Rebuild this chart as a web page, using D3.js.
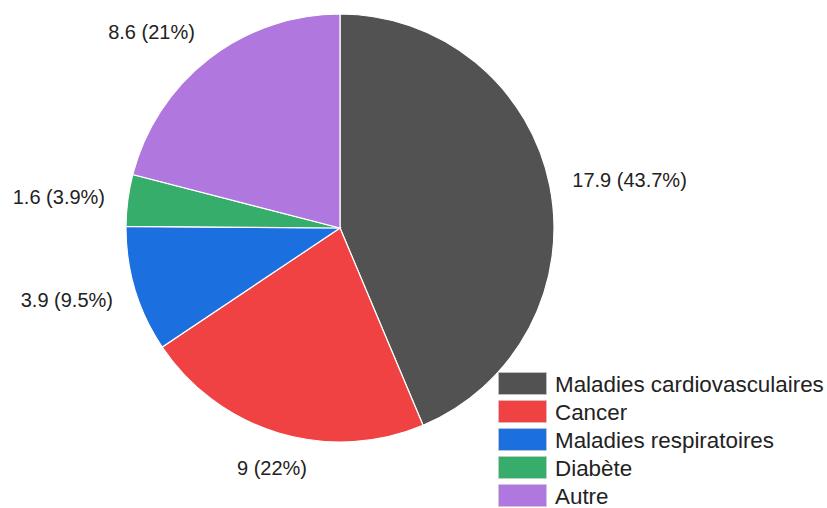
<!DOCTYPE html>
<html>
<head>
<meta charset="utf-8">
<script src="https://cdn.jsdelivr.net/npm/d3@7"></script>
<style>
  body { margin: 0; background: #fff; }
  text { font-family: "Liberation Sans", Arial, sans-serif; fill: #222; }
</style>
</head>
<body>
<div id="chart"></div>
<script>
const categories = ['Maladies cardiovasculaires', 'Cancer', 'Maladies respiratoires', 'Diabète', 'Autre'];
const values = [17.9, 9, 3.9, 1.6, 8.6];
const percentLabels = ['43.7%', '22%', '9.5%', '3.9%', '21%'];
const colors = ['#525252', '#f04242', '#1b6fde', '#37ad6b', '#b077df'];

const width = 827;
const height = 508;
const cx = 340;
const cy = 228;
const radius = 214;
// label box sits a little further out vertically than horizontally
const labelRx = 237;
const labelRy = 249;

const svg = d3.select('#chart')
  .append('svg')
  .attr('width', width)
  .attr('height', height);

const data = categories.map((c, i) => ({ name: c, value: values[i], pct: percentLabels[i], color: colors[i] }));

const pie = d3.pie()
  .value((d) => d.value)
  .sort(null);

const arc = d3.arc()
  .innerRadius(0)
  .outerRadius(radius);

const arcs = pie(data);

const g = svg.append('g')
  .attr('transform', `translate(${cx}, ${cy})`);

g.selectAll('path')
  .data(arcs)
  .join('path')
  .attr('d', arc)
  .attr('fill', (d) => d.data.color)
  .attr('stroke', '#fff')
  .attr('stroke-width', 1.2);

// Outside labels
const midAngle = (d) => (d.startAngle + d.endAngle) / 2;

g.selectAll('text.lbl')
  .data(arcs)
  .join('text')
  .attr('class', 'lbl')
  .attr('x', (d) => labelRx * Math.sin(midAngle(d)))
  .attr('y', (d) => -labelRy * Math.cos(midAngle(d)) + 1)
  .attr('text-anchor', (d) => {
    const s = Math.sin(midAngle(d));
    if (Math.abs(s) < 0.4) return 'middle';
    return s > 0 ? 'start' : 'end';
  })
  .attr('dominant-baseline', 'central')
  .style('font-size', '20px')
  .text((d) => `${d.data.value} (${d.data.pct})`);

// Legend
const legend = svg.append('g')
  .attr('transform', 'translate(498, 372)');

const rowH = 28;

const item = legend.selectAll('g')
  .data(data)
  .join('g')
  .attr('transform', (d, i) => `translate(0, ${i * rowH})`);

item.append('rect')
  .attr('x', 0.5)
  .attr('y', 0.5)
  .attr('width', 48)
  .attr('height', 22)
  .attr('fill', (d) => d.color)
  .attr('stroke', '#ccc')
  .attr('stroke-opacity', 0.6);

item.append('text')
  .attr('x', 57)
  .attr('y', 12)
  .attr('dominant-baseline', 'central')
  .style('font-size', '22.4px')
  .text((d) => d.name);
</script>
</body>
</html>
